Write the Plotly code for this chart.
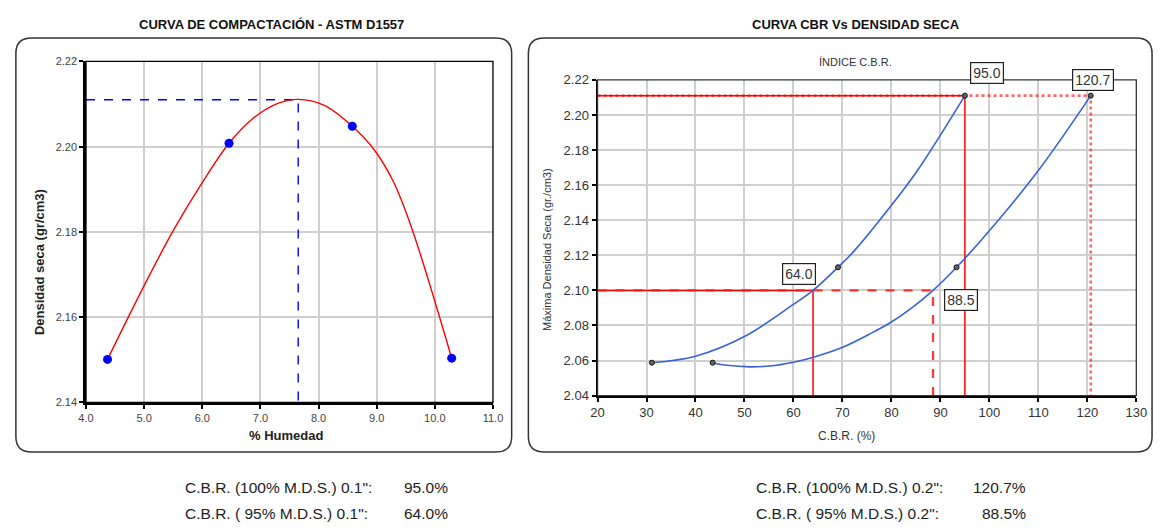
import plotly.graph_objects as go

W, H = 1166, 530
FONT = "Liberation Sans, Arial, sans-serif"

# ---------------- Data: compaction curve (left) ----------------
humedad = [4.37, 6.46, 8.58, 10.29]
densidad = [2.1501, 2.2008, 2.2048, 2.1504]
curva_hum = [4.37, 5.00, 5.50, 6.01, 6.46, 6.86, 7.31, 7.65, 8.10, 8.58, 8.95, 9.28, 9.60, 10.29]
curva_dens = [2.1501, 2.1674, 2.1803, 2.1918, 2.2008, 2.2065, 2.2102, 2.2111, 2.2097, 2.2048, 2.1994, 2.1920, 2.1810, 2.1504]
hum_optima = 7.65
dens_maxima = 2.211
x1_ticks = [4.0, 5.0, 6.0, 7.0, 8.0, 9.0, 10.0, 11.0]
y1_ticks = [2.14, 2.16, 2.18, 2.20, 2.22]

# ---------------- Data: CBR vs density (right) ----------------
dens_cbr = [2.0588, 2.1132, 2.211]
cbr_01 = [31.1, 69.1, 95.0]
cbr_02 = [43.5, 93.3, 120.7]
# smoothed curves
curva01_cbr = [31.1, 40, 50, 60, 64, 69.1, 72.5, 80, 85, 90, 95.0]
curva01_dens = [2.0588, 2.0625, 2.0737, 2.0920, 2.100, 2.1132, 2.1228, 2.1485, 2.1671, 2.1885, 2.211]
curva02_cbr = [43.5, 46.5, 51.1, 55.1, 60, 63.9, 69.8, 75.8, 80, 84.3, 88.5, 93.3, 100, 110, 120.7]
curva02_dens = [2.0588, 2.0573, 2.0564, 2.0569, 2.0591, 2.0618, 2.0673, 2.0755, 2.0820, 2.0903, 2.100, 2.1132,
                2.1340, 2.1683, 2.211]
dens_95 = 2.100
cbr01_100, cbr01_95 = 95.0, 64.0
cbr02_100, cbr02_95 = 120.7, 88.5
x2_ticks = [20, 30, 40, 50, 60, 70, 80, 90, 100, 110, 120, 130]
y2_ticks = [2.04, 2.06, 2.08, 2.10, 2.12, 2.14, 2.16, 2.18, 2.20, 2.22]


def px(x):
    return x / W


def py(y):
    return 1 - y / H


fig = go.Figure()

# ---- left chart traces ----
fig.add_trace(go.Scatter(x=[x1_ticks[0], hum_optima, hum_optima], y=[dens_maxima, dens_maxima, y1_ticks[0]],
                         mode="lines", line=dict(color="#0000ff", width=1.4, dash="dash"),
                         xaxis="x", yaxis="y", hoverinfo="skip"))
fig.add_trace(go.Scatter(x=curva_hum, y=curva_dens, mode="lines",
                         line=dict(color="#ff0000", width=1.4, shape="spline", smoothing=1),
                         xaxis="x", yaxis="y"))
fig.add_trace(go.Scatter(x=humedad, y=densidad, mode="markers",
                         marker=dict(color="#0000ff", size=9),
                         xaxis="x", yaxis="y"))

# ---- right chart traces ----
x2min = x2_ticks[0]
y2min = y2_ticks[0]
# 100% MDS lines
fig.add_trace(go.Scatter(x=[x2min, cbr01_100, cbr01_100], y=[dens_maxima, dens_maxima, y2min],
                         mode="lines", line=dict(color="#ff0000", width=1.5),
                         xaxis="x2", yaxis="y2"))
fig.add_trace(go.Scatter(x=[x2min, cbr02_100, cbr02_100], y=[dens_maxima, dens_maxima, y2min],
                         mode="lines", line=dict(color="rgba(255,0,0,0.6)", width=2.6, dash="dot"),
                         xaxis="x2", yaxis="y2"))
# 95% MDS lines
fig.add_trace(go.Scatter(x=[x2min, cbr01_95, cbr01_95], y=[dens_95, dens_95, y2min],
                         mode="lines", line=dict(color="#ff0000", width=1.5),
                         xaxis="x2", yaxis="y2"))
fig.add_trace(go.Scatter(x=[x2min, cbr02_95, cbr02_95], y=[dens_95, dens_95, y2min],
                         mode="lines", line=dict(color="rgba(255,20,20,0.85)", width=2.2, dash="dash"),
                         xaxis="x2", yaxis="y2"))
# CBR curves
for cx, cy in ((curva01_cbr, curva01_dens), (curva02_cbr, curva02_dens)):
    fig.add_trace(go.Scatter(x=cx, y=cy, mode="lines",
                             line=dict(color="#3a62d8", width=1.6, shape="spline", smoothing=1),
                             xaxis="x2", yaxis="y2"))
for cbr in (cbr_01, cbr_02):
    fig.add_trace(go.Scatter(x=cbr, y=dens_cbr, mode="markers",
                             marker=dict(color="#666666", size=5, line=dict(color="#111111", width=1)),
                             xaxis="x2", yaxis="y2"))

axis_common = dict(showgrid=True, gridcolor="#cfcfcf", gridwidth=1.5, zeroline=False,
                   ticks="outside", ticklen=4, tickwidth=1.5, tickcolor="#000",
                   showline=True, linecolor="#000")

fig.update_layout(
    width=W, height=H, margin=dict(l=0, r=0, t=0, b=0),
    paper_bgcolor="white", plot_bgcolor="white", showlegend=False,
    font=dict(family=FONT, color="#333"),
    xaxis=dict(axis_common, domain=[px(79.3), px(493)], range=[4, 11], tickvals=x1_ticks,
               tickformat=".1f", linewidth=2.5, tickfont=dict(size=11, color="#444"), anchor="y"),
    yaxis=dict(axis_common, domain=[py(407), py(56)], range=[2.14, 2.22], tickvals=y1_ticks,
               tickformat=".2f", linewidth=2.5, tickfont=dict(size=11, color="#444"), anchor="x"),
    xaxis2=dict(axis_common, domain=[px(599.3), px(1147)], range=[20, 130], tickvals=x2_ticks,
                linewidth=2, tickfont=dict(size=13, color="#333"), anchor="y2"),
    yaxis2=dict(axis_common, domain=[py(400), py(75)], range=[2.04, 2.22], tickvals=y2_ticks,
                tickformat=".2f", linewidth=2, tickfont=dict(size=13, color="#333"), anchor="x2"),
)


def rounded_box(x0, y0, x1, y1, r):
    pts = [
        ("M", [(x0 + r, y0)]),
        ("L", [(x1 - r, y0)]),
        ("Q", [(x1, y0), (x1, y0 + r)]),
        ("L", [(x1, y1 - r)]),
        ("Q", [(x1, y1), (x1 - r, y1)]),
        ("L", [(x0 + r, y1)]),
        ("Q", [(x0, y1), (x0, y1 - r)]),
        ("L", [(x0, y0 + r)]),
        ("Q", [(x0, y0), (x0 + r, y0)]),
    ]
    s = ""
    for cmd, p in pts:
        s += cmd + " " + " ".join(f"{px(a):.5f},{py(b):.5f}" for a, b in p) + " "
    return s + "Z"


shapes = [
    dict(type="path", xref="paper", yref="paper", path=rounded_box(8, 32, 512, 458, 16),
         line=dict(color="#333", width=1.5)),
    dict(type="path", xref="paper", yref="paper", path=rounded_box(529, 32, 1163, 458, 16),
         line=dict(color="#333", width=1.5)),
    dict(type="rect", xref="x domain", yref="y domain", x0=0, x1=1, y0=0, y1=1,
         line=dict(color="#000", width=1.3)),
    dict(type="rect", xref="x2 domain", yref="y2 domain", x0=0, x1=1, y0=0, y1=1,
         line=dict(color="#333", width=1.3)),
]
fig.update_layout(shapes=shapes)

ann = []


def text(x, y, t, size, bold=False, color="#222", angle=0, xanchor="center"):
    ann.append(dict(x=px(x), y=py(y), xref="paper", yref="paper", showarrow=False,
                    text=f"<b>{t}</b>" if bold else t, textangle=angle, xanchor=xanchor, yanchor="middle",
                    font=dict(family=FONT, size=size, color=color)))


text(268, 18, "CURVA DE COMPACTACIÓN - ASTM D1557", 13, bold=True, color="#111")
text(862, 18, "CURVA CBR Vs DENSIDAD SECA", 13, bold=True, color="#111")
text(862, 57, "ÍNDICE C.B.R.", 11, color="#333")
text(283, 441, "% Humedad", 13, bold=True, color="#222")
text(32, 262, "Densidad seca (gr/cm3)", 13, bold=True, color="#222", angle=-90)
text(852, 441, "C.B.R. (%)", 12, color="#333")
text(548, 250, "Máxima Densidad Seca (gr./cm3)", 11, color="#333", angle=-90)

# bottom summary
text(178, 495, 'C.B.R. (100% M.D.S.) 0.1":', 15.5, xanchor="left")
text(178, 521, 'C.B.R. ( 95% M.D.S.) 0.1":', 15.5, xanchor="left")
text(401, 495, f"{cbr01_100:.1f}%", 15.5, xanchor="left")
text(401, 521, f"{cbr01_95:.1f}%", 15.5, xanchor="left")
text(758, 495, 'C.B.R. (100% M.D.S.) 0.2":', 15.5, xanchor="left")
text(758, 521, 'C.B.R. ( 95% M.D.S.) 0.2":', 15.5, xanchor="left")
text(1037, 495, f"{cbr02_100:.1f}%", 15.5, xanchor="right")
text(1037, 521, f"{cbr02_95:.1f}%", 15.5, xanchor="right")

# value labels on right chart
for xv, yv, dx, dy in [(cbr01_100, dens_maxima, 22, 23), (cbr02_100, dens_maxima, 2, 16),
                       (cbr01_95, dens_95, -14, 16), (cbr02_95, dens_95, 28, -10)]:
    ann.append(dict(x=xv, y=yv, xref="x2", yref="y2", showarrow=False, text=f"{xv:.1f}",
                    xshift=dx, yshift=dy, bgcolor="white", bordercolor="#222", borderwidth=1.2,
                    borderpad=2, font=dict(family=FONT, size=14, color="#333")))

fig.update_layout(annotations=ann)

fig.write_html("out.html", config={"displayModeBar": False},
               post_script="document.body.style.margin='0';document.body.style.overflow='hidden';")
